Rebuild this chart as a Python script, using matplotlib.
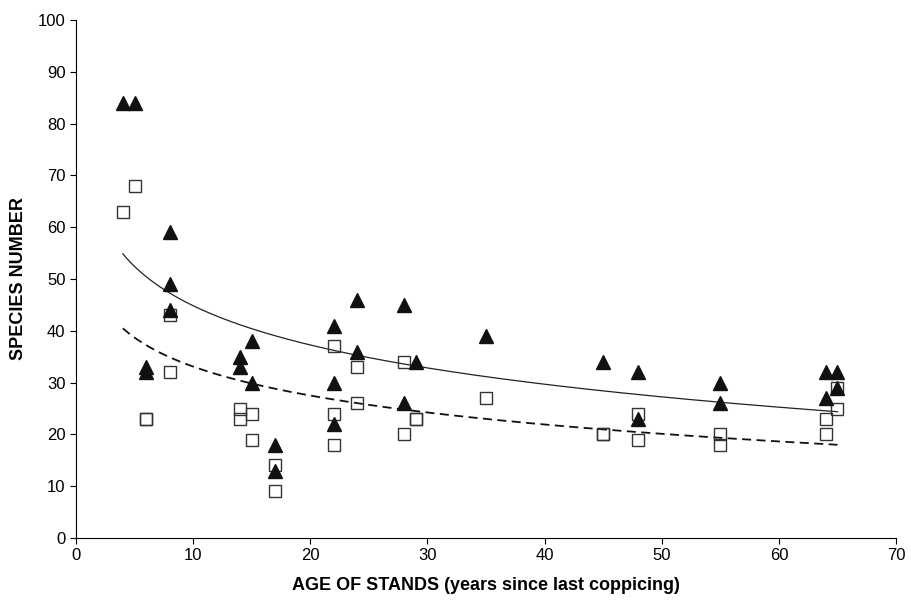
import numpy as np
import matplotlib.pyplot as plt

plt.rcParams['font.family'] = ['Liberation Sans', 'DejaVu Sans']

# --- datos (triangulos rellenos) ---
edad_tri = [4, 5, 6, 6, 8, 8, 8, 14, 14, 15, 15, 17, 17, 22, 22, 22, 24, 24,
            28, 28, 29, 35, 45, 48, 48, 55, 55, 64, 64, 65, 65]
especies_tri = [84, 84, 33, 32, 59, 49, 44, 35, 33, 38, 30, 18, 13, 41, 30, 22, 46, 36,
                45, 26, 34, 39, 34, 32, 23, 30, 26, 32, 27, 32, 29]

# --- datos (cuadrados vacios) ---
edad_cua = [4, 5, 6, 6, 8, 8, 14, 14, 15, 15, 17, 17, 22, 22, 22, 24, 24,
            28, 28, 29, 29, 35, 45, 45, 48, 48, 55, 55, 64, 64, 65, 65]
especies_cua = [63, 68, 23, 23, 43, 32, 25, 23, 24, 19, 14, 9, 37, 24, 18, 33, 26,
                34, 20, 23, 23, 27, 20, 20, 24, 19, 20, 18, 23, 20, 29, 25]

fig = plt.figure(figsize=(9.12, 6.02), dpi=100)
ax = fig.add_axes([0.0833, 0.1063, 0.8992, 0.8605])

ax.plot(edad_tri, especies_tri, linestyle='none', marker='^', markersize=10,
        color='#111111', zorder=3)
ax.plot(edad_cua, especies_cua, linestyle='none', marker='s', markersize=8.5,
        markerfacecolor='none', markeredgecolor='#333333', markeredgewidth=1.0, zorder=2)

# lineas de tendencia logaritmicas (minimos cuadrados sobre ln x)
xs = np.linspace(4, 65, 200)
b1, a1 = np.polyfit(np.log(edad_tri), especies_tri, 1)
b2, a2 = np.polyfit(np.log(edad_cua), especies_cua, 1)
ax.plot(xs, a1 + b1 * np.log(xs), color='#222222', linewidth=0.9, zorder=1)
ax.plot(xs, a2 + b2 * np.log(xs), color='#111111', linewidth=1.3,
        linestyle=(0, (5, 3)), zorder=1)

ax.set_xlim(0, 70)
ax.set_ylim(0, 100)
ax.set_xticks(range(0, 71, 10))
ax.set_yticks(range(0, 101, 10))
ax.spines['top'].set_visible(False)
ax.spines['right'].set_visible(False)
ax.tick_params(direction='out', length=4, labelsize=12)

ax.set_xlabel('AGE OF STANDS (years since last coppicing)', fontsize=13,
              fontweight='bold', labelpad=10)
ax.set_ylabel('SPECIES NUMBER', fontsize=13, fontweight='bold', labelpad=8)

fig.savefig('out.png', dpi=100)
